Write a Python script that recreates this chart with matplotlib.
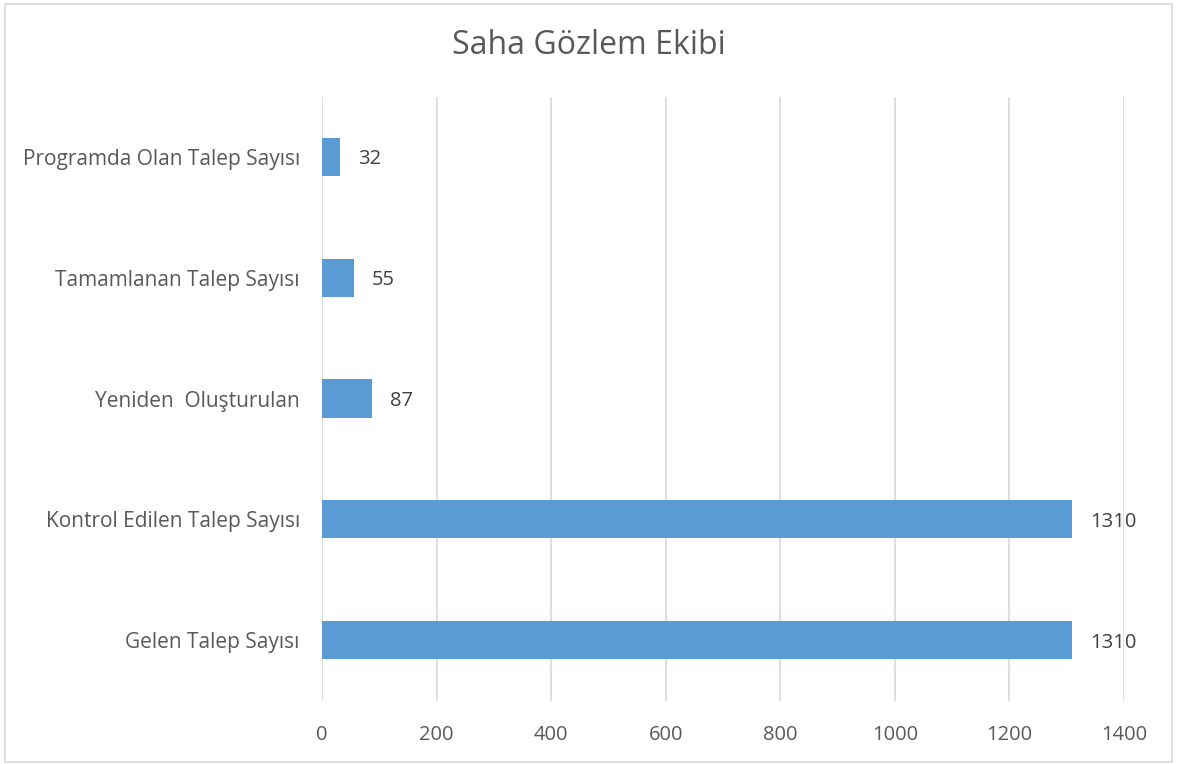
import matplotlib
matplotlib.use("Agg")
import matplotlib.pyplot as plt
from matplotlib.patches import Rectangle

categories = ["Gelen Talep Sayısı", "Kontrol Edilen Talep Sayısı", "Yeniden  Oluşturulan",
              "Tamamlanan Talep Sayısı", "Programda Olan Talep Sayısı"]
values = [1310, 1310, 87, 55, 32]
xticks = [0, 200, 400, 600, 800, 1000, 1200, 1400]

plt.rcParams['font.family'] = ['Open Sans', 'DejaVu Sans']
W, H = 1177, 764
fig = plt.figure(figsize=(W/100, H/100), dpi=100)
left, right, top, bottom = 322, 1124, 96.5, 700.5
ax = fig.add_axes([left/W, 1-bottom/H, (right-left)/W, (bottom-top)/H])

txt = '#595959'
y = range(len(categories))
ax.barh(y, values, height=0.315, color='#5B9BD5', zorder=3)
ax.set_xlim(0, 1400)
ax.set_ylim(-0.5, len(categories)-0.5)
ax.set_xticks(xticks)
ax.set_xticklabels([str(t) for t in xticks])
ax.set_yticks(list(y))
ax.set_yticklabels(categories)
ax.tick_params(axis='both', length=0, labelsize=14.5, labelcolor=txt)
ax.tick_params(axis='y', labelsize=15)
ax.tick_params(axis='x', pad=18)
ax.tick_params(axis='y', pad=16)
for s in ax.spines.values():
    s.set_visible(False)
ax.grid(axis='x', color='#D9D9D9', linewidth=1.2, zorder=0)
ax.set_axisbelow(True)
for i, v in enumerate(values):
    ax.text(v + 31, i - 0.02, str(v), va='center', ha='left', fontsize=14.5, color='#404040')

fig.text(0.5, 1-45/H, "Saha Gözlem Ekibi", ha='center', va='center', fontsize=23, color=txt)
fig.patches.append(Rectangle((5/W, 2/H), (1172-5)/W, (758)/H, transform=fig.transFigure,
                             fill=False, edgecolor='#D9D9D9', linewidth=1.2))
fig.savefig("out.png", dpi=100)
